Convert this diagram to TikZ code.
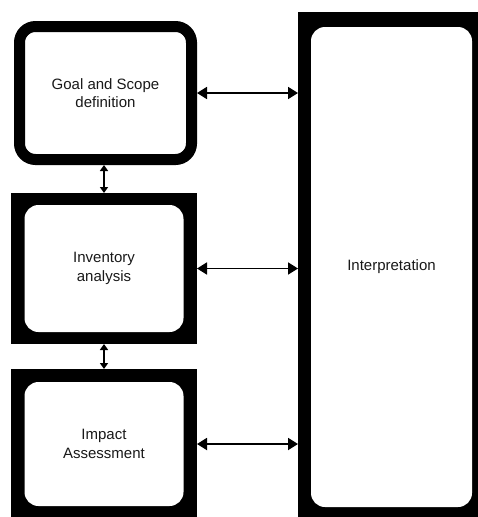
\documentclass[tikz,border=0pt]{standalone}
\usepackage{fontspec}
\setmainfont{Liberation Sans}
\usepackage{tikz}
\usetikzlibrary{arrows.meta,positioning}
\definecolor{lcablack}{RGB}{0,0,0}
\definecolor{lcatext}{RGB}{25,25,25}
\tikzstyle{stagebox} = [rectangle, rounded corners=16pt, draw=lcablack, line width=11pt, fill=white, minimum width=172pt, minimum height=133pt, align=center, text=lcatext, font=\fontsize{15}{18.5}\selectfont]
\tikzstyle{stageframe} = [rectangle, fill=lcablack, inner sep=0pt, outer sep=0pt]
\tikzstyle{stageinner} = [rectangle, rounded corners=14pt, fill=white, inner sep=0pt, align=center, text=lcatext, font=\fontsize{15}{18.5}\selectfont]
\tikzstyle{link} = [line width=1.8pt, color=lcablack, {Triangle[length=10pt,width=12pt]}-{Triangle[length=10pt,width=12pt]}]
\tikzstyle{shortlink} = [line width=1.8pt, color=lcablack, {Triangle[length=6pt,width=8pt]}-{Triangle[length=6pt,width=8pt]}]

\begin{document}
\begin{tikzpicture}[x=1pt, y=-1pt]
\useasboundingbox (0,0) rectangle (478,517);

% Phases
\node (goal) [stagebox] at (105.5,93) {Goal and Scope\\definition};
\node (inv) [stageframe, minimum width=186pt, minimum height=151pt, below=28pt of goal, xshift=-1.5pt] {};
\node (invin) [stageinner, minimum width=159pt, minimum height=127pt] at (inv.center) {Inventory\\analysis};
\node (imp) [stageframe, minimum width=186pt, minimum height=150pt, below=25pt of inv] {};
\node (impin) [stageinner, minimum width=159pt, minimum height=124pt] at (imp.center) {Impact\\Assessment};

% Interpretation
\node (interp) [stageframe, minimum width=188pt, minimum height=509pt] at (392,266.5) {};
\node (interpin) [stageinner, minimum width=161pt, minimum height=480pt] at (391.5,267) {Interpretation};

% Connections
\draw[link] (goal.east) -- (goal.east -| interp.west);
\draw[link] (inv.east) -- (inv.east -| interp.west);
\draw[link] (imp.east) -- (imp.east -| interp.west);
\draw[shortlink] (inv.north |- goal.south) -- (inv.north);
\draw[shortlink] (inv.south) -- (imp.north);
\end{tikzpicture}
\end{document}
